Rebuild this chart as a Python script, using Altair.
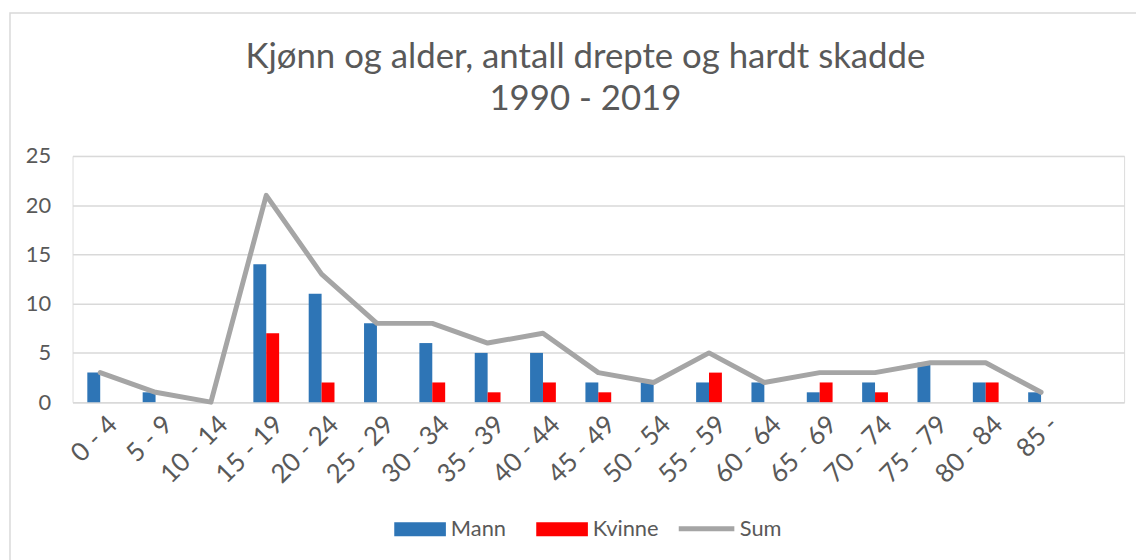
import altair as alt
import pandas as pd

ages = ["0 - 4", "5 - 9", "10 - 14", "15 - 19", "20 - 24", "25 - 29", "30 - 34",
        "35 - 39", "40 - 44", "45 - 49", "50 - 54", "55 - 59", "60 - 64", "65 - 69",
        "70 - 74", "75 - 79", "80 - 84", "85 -"]
mann = [3, 1, 0, 14, 11, 8, 6, 5, 5, 2, 2, 2, 2, 1, 2, 4, 2, 1]
kvinne = [0, 0, 0, 7, 2, 0, 2, 1, 2, 1, 0, 3, 0, 2, 1, 0, 2, 0]
total = [3, 1, 0, 21, 13, 8, 8, 6, 7, 3, 2, 5, 2, 3, 3, 4, 4, 1]
series = ["Mann", "Kvinne"]
colors = ["#2E75B6", "#FF0000"]
sum_label = ["Sum"]
sum_color = ["#A5A5A5"]
y_ticks = [0, 5, 10, 15, 20, 25]
x_domain = ages + [" "]

bars_df = pd.DataFrame({
    "alder": ages * 2,
    "kjonn": ["Mann"] * len(ages) + ["Kvinne"] * len(ages),
    "antall": mann + kvinne,
})
line_df = pd.DataFrame({"alder": ages, "serie": sum_label * len(ages), "antall": total})

FONT = "Lato"
GREY = "#595959"
GRID = "#D9D9D9"
LBL = 22
W, H = 1059, 248

x_enc = alt.X(
    "alder:N",
    scale=alt.Scale(domain=x_domain, paddingInner=0.534, paddingOuter=0.267),
    axis=alt.Axis(
        title=None, labelAngle=-45, labelAlign="right", labelBaseline="middle",
        labelPadding=18, labelOffset=13, ticks=False, domainColor=GRID,
        domainWidth=1.5, labelFont=FONT, labelFontSize=26, labelColor=GREY,
        labelOverlap=False,
    ),
)
y_enc = alt.Y(
    "antall:Q",
    scale=alt.Scale(domain=[0, 25], nice=False),
    axis=alt.Axis(
        title=None, values=y_ticks, ticks=False, domain=False, gridColor=GRID,
        gridWidth=1.5, labelPadding=22, labelFont=FONT, labelFontSize=LBL,
        labelColor=GREY,
    ),
)

frame = alt.Chart(alt.Data(values=[{}])).mark_rect(
    fillOpacity=0, stroke=GRID, strokeWidth=1.5
).encode(
    x=alt.value(-63), x2=alt.value(1200), y=alt.value(-144), y2=alt.value(600)
)

bars = alt.Chart(bars_df).mark_bar().encode(
    x=x_enc,
    y=y_enc,
    xOffset=alt.XOffset("kjonn:N", scale=alt.Scale(domain=series)),
    color=alt.Color(
        "kjonn:N",
        scale=alt.Scale(domain=series, range=colors),
        legend=alt.Legend(
            title=None, orient="none", legendX=324, legendY=350,
            direction="horizontal", symbolType="M-1,-0.27H1V0.27H-1Z",
            symbolSize=2704, symbolStrokeWidth=0, symbolOpacity=1,
            labelFont=FONT, labelFontSize=LBL, labelColor=GREY,
            labelOffset=5, columnPadding=30,
        ),
    ),
)

line = alt.Chart(line_df).mark_line(
    strokeWidth=5, strokeJoin="round", strokeCap="round"
).encode(
    x=x_enc,
    y=y_enc,
    stroke=alt.Stroke(
        "serie:N",
        scale=alt.Scale(domain=sum_label, range=sum_color),
        legend=alt.Legend(
            title=None, orient="none", legendX=608, legendY=345,
            direction="horizontal", symbolType="stroke", symbolSize=3136,
            symbolStrokeWidth=5, labelFont=FONT, labelFontSize=LBL,
            labelColor=GREY, labelOffset=3,
        ),
    ),
)

chart = alt.layer(frame, bars, line).properties(
    width=W,
    height=H,
    title=alt.TitleParams(
        ["Kjønn og alder, antall drepte og hardt skadde", "1990 - 2019"],
        font=FONT, fontSize=35, fontWeight="normal", color=GREY,
        anchor="middle", dx=-13, offset=-141, lineHeight=43, baseline="bottom",
    ),
    autosize=alt.AutoSizeParams(type="none"),
    padding={"left": 65, "top": 147, "right": 12, "bottom": 157},
).configure_view(stroke=None).configure(background="white")

chart.save("out.html", embed_options={"renderer": "svg", "actions": False})
